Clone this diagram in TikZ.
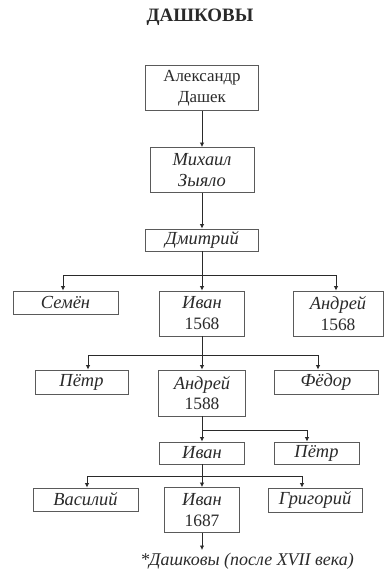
\documentclass[tikz,border=0pt]{standalone}
\usepackage{fontspec}
\setmainfont{Liberation Serif}
\usetikzlibrary{arrows.meta,positioning,calc}
\definecolor{ink}{HTML}{2A2A2A}
\definecolor{boxLine}{HTML}{5A5A5A}
\tikzset{
  >={Latex[length=4.5bp,width=4.5bp]},
  ctitle/.style={font=\fontsize{19}{22}\selectfont\bfseries,text=ink},
  person/.style={draw=boxLine,line width=0.9pt,fill=white,text=ink,align=center,
    font=\fontsize{18.5}{21}\selectfont\itshape,inner sep=1pt,minimum height=23bp},
  pair/.style={person,minimum height=45bp},
  link/.style={ink,line width=0.8pt},
  note/.style={font=\fontsize{18}{20}\selectfont\itshape,text=ink},
}
\newcommand{\yr}[1]{{\fontsize{17.5}{21}\selectfont\upshape #1}}

\begin{document}
\begin{tikzpicture}[x=1bp,y=-1bp]
\useasboundingbox (0,0) rectangle (384,573);

\node[ctitle] (title) at (200,17) {ДАШКОВЫ};

% ================= FIRST GENERATIONS =================
\node[pair,minimum width=113bp,font=\fontsize{17}{21}\selectfont] (alex) at (202,88) {Александр\\Дашек};
\node[pair,minimum width=104bp] (mikh) at (202,170) {Михаил\\Зыяло};
\node[person,minimum width=113bp,minimum height=22bp] (dmit) at (202,240) {Дмитрий};
\draw[link,->] (alex) -- (mikh);
\draw[link,->] (mikh) -- (dmit);

% ================= SONS OF DMITRY =================
\node[person,minimum width=105bp] (semen) at (65.5,302.5) {Семён};
\node[pair,minimum width=85bp] (ivanA) at (202,313.5) {Иван\\\yr{1568}};
\node[pair,minimum width=90bp] (andrA) at (338,313.5) {Андрей\\\yr{1568}};
\coordinate (j1) at (202,275);
\draw[link] (dmit) -- (j1);
\draw[link,->] (j1) -- (ivanA);
\draw[link,->] (j1) -| ([xshift=-2.5bp]semen.north);
\draw[link,->] (j1) -| ([xshift=-2bp]andrA.north);

% ================= SONS OF IVAN =================
\node[person,minimum width=93bp,minimum height=24bp] (petrA) at (81.5,382) {Пётр};
\node[pair,minimum width=87bp,minimum height=46bp] (andrB) at (202,393) {Андрей\\\yr{1588}};
\node[person,minimum width=104bp,minimum height=24bp] (fedor) at (326,382) {Фёдор};
\coordinate (j2) at (202,355);
\draw[link] (ivanA) -- (j2);
\draw[link,->] (j2) -- (andrB);
\draw[link,->] (j2) -| ([xshift=6.5bp]petrA.north);
\draw[link,->] (j2) -| ([xshift=-8bp]fedor.north);

% ================= SONS OF ANDREY =================
\node[person,minimum width=85bp,minimum height=22bp] (ivanB) at (202,453) {Иван};
\node[person,minimum width=85bp,minimum height=22bp] (petrB) at (316.5,453) {Пётр};
\coordinate (j3) at (202,430);
\draw[link] (andrB) -- (j3);
\draw[link,->] (j3) -- (ivanB);
\draw[link,->] (j3) -| ([xshift=-9.5bp]petrB.north);

% ================= SONS OF IVAN =================
\node[person,minimum width=105bp] (vasil) at (85.5,499.5) {Василий};
\node[pair,minimum width=75bp] (ivanC) at (202,510) {Иван\\\yr{1687}};
\node[person,minimum width=94bp,minimum height=24bp] (grig) at (315,500) {Григорий};
\coordinate (j4) at (202,476);
\draw[link] (ivanB) -- (j4);
\draw[link,->] (j4) -- (ivanC);
\draw[link,->] (j4) -| ([xshift=1.5bp]vasil.north);
\draw[link,->] (j4) -| ([xshift=-13bp]grig.north);

\node[note,anchor=north] (desc) at (247,550) {*Дашковы (после XVII века)};
\draw[link,->] (ivanC) -- (ivanC.south |- desc.north);

\end{tikzpicture}
\end{document}
